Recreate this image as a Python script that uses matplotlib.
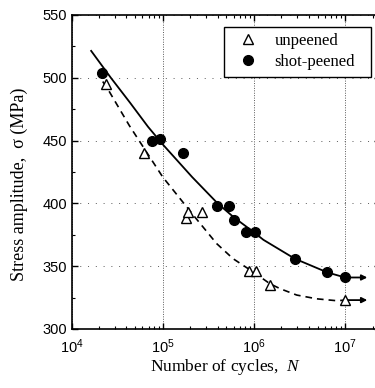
import matplotlib
matplotlib.use("Agg")
import matplotlib.pyplot as plt
from matplotlib.ticker import LogLocator, MultipleLocator, NullFormatter

unpeened_N = [2.4e4, 6.3e4, 1.78e5, 1.9e5, 2.7e5, 8.8e5, 1.05e6, 1.5e6, 1.0e7]
unpeened_S = [495, 440, 388, 393, 393, 346, 346, 335, 323]

peened_N = [2.17e4, 7.6e4, 9.3e4, 1.65e5, 3.9e5, 5.3e5, 6.0e5, 8.1e5, 1.03e6, 2.8e6, 6.4e6, 1.0e7]
peened_S = [504, 450, 451, 440, 398, 398, 387, 377, 377, 356, 345, 341]

# curvas de ajuste
fit_peened_N = [1.62e4, 2.7e4, 4.4e4, 6.9e4, 1e5, 2.1e5, 4e5, 6e5, 1e6, 1.27e6, 2.8e6, 6.4e6, 1e7]
fit_peened_S = [522, 500, 480, 461, 447, 421, 400, 389, 377, 371, 356, 345, 341]

fit_unpeened_N = [2.2e4, 2.5e4, 4.3e4, 1e5, 2.2e5, 3.9e5, 5.9e5, 1e6, 1.5e6, 1.95e6, 2.95e6, 4.9e6, 8.1e6, 1e7]
fit_unpeened_S = [497, 491, 462, 421, 390, 368, 356, 345, 336, 332, 327, 324, 322.5, 323]

runout_factor = 1.75  # largo de las flechas (run-out)

plt.rcParams['font.family'] = ['Liberation Sans', 'DejaVu Sans']
plt.rcParams['mathtext.fontset'] = 'custom'
plt.rcParams['mathtext.it'] = 'Liberation Serif:italic'
plt.rcParams['mathtext.rm'] = 'Liberation Sans'
serif = ['Liberation Serif', 'DejaVu Serif']

fig = plt.figure(figsize=(3.75, 3.88), dpi=100)
ax = fig.add_axes([0.1907, 0.1521, 0.8221, 0.8093])

# curvas
ax.plot(fit_peened_N, fit_peened_S, color='k', lw=1.3, solid_capstyle='butt')
ax.plot(fit_unpeened_N, fit_unpeened_S, color='k', lw=1.2, dashes=(4, 3))

# puntos
ax.plot(unpeened_N, unpeened_S, linestyle='none', marker='^', ms=6.5,
        mfc='white', mec='k', mew=1.0, label='unpeened', zorder=4)
ax.plot(peened_N, peened_S, linestyle='none', marker='o', ms=7,
        mfc='k', mec='k', label='shot-peened', zorder=4)

# flechas de run-out
for N, S in [(unpeened_N[-1], unpeened_S[-1]), (peened_N[-1], peened_S[-1])]:
    ax.annotate('', xy=(N * runout_factor, S), xytext=(N, S),
                arrowprops=dict(arrowstyle='-|>', color='k', lw=1.3,
                                mutation_scale=8, shrinkA=0, shrinkB=0))

ax.set_xscale('log')
ax.set_xlim(1e4, 2.4e7)
ax.set_ylim(300, 550)

ax.xaxis.set_major_locator(LogLocator(base=10, numticks=10))
ax.xaxis.set_minor_locator(LogLocator(base=10, subs=range(2, 10), numticks=20))
ax.xaxis.set_minor_formatter(NullFormatter())
ax.yaxis.set_major_locator(MultipleLocator(50))
ax.yaxis.set_minor_locator(MultipleLocator(25))

ax.tick_params(which='both', direction='in', top=True, right=True, labelsize=10.5)
ax.tick_params(which='major', length=4.5, width=1.0)
ax.tick_params(which='minor', length=2.5, width=0.8)
ax.tick_params(axis='x', pad=6)
ax.tick_params(axis='y', pad=3)

for sp in ax.spines.values():
    sp.set_linewidth(1.2)

# rejilla punteada
ax.grid(True, which='major', axis='x', color='0.35', lw=0.7, linestyle=(0, (1, 1.5)))
ax.grid(True, which='major', axis='y', color='0.35', lw=0.7, linestyle=(0, (1, 7)))

ax.set_xlabel('Number of cycles,  $N$', family=serif, fontsize=12.5)
ax.set_ylabel('Stress amplitude,  σ (MPa)', family=serif, fontsize=13)
ax.xaxis.set_label_coords(0.50, -0.09)
ax.yaxis.set_label_coords(-0.142, 0.46)

leg = ax.legend(loc='upper left', bbox_to_anchor=(0.4956, 0.5, 0.4758, 0.463),
                mode='expand', frameon=True,
                fancybox=False, edgecolor='k', framealpha=1,
                prop={'family': serif, 'size': 12}, borderaxespad=0,
                handlelength=2.0, handletextpad=0.6, borderpad=0.4,
                labelspacing=0.3)
leg.get_frame().set_linewidth(1.0)

fig.savefig('out.png', dpi=100)
